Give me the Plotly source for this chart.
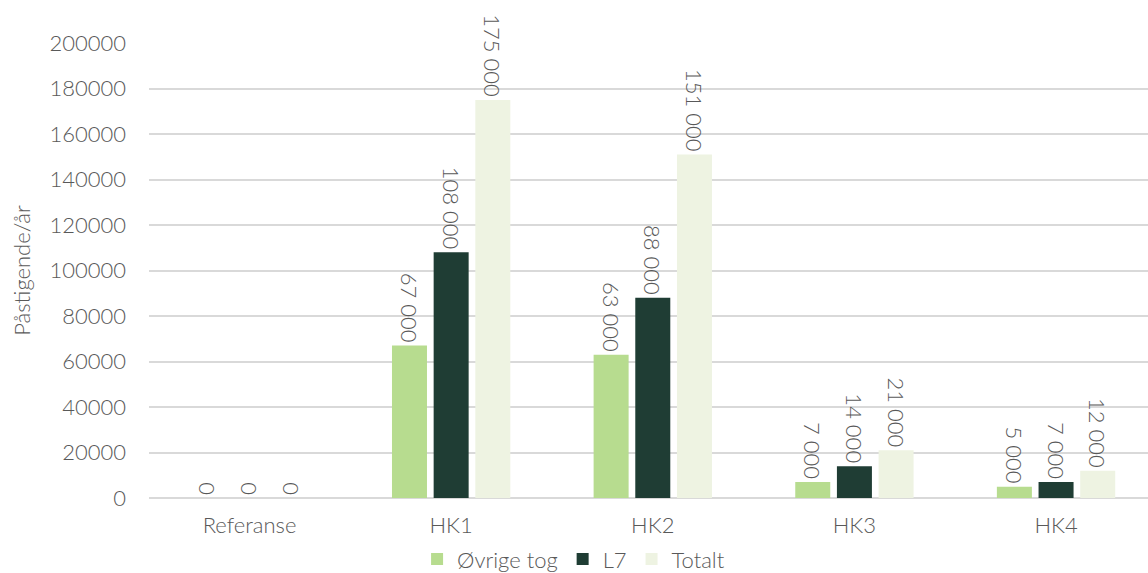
import plotly.graph_objects as go

# Boardings per year by alternative
categories = ["Referanse", "HK1", "HK2", "HK3", "HK4"]
ovrige_tog = [0, 67000, 63000, 7000, 5000]
l7 = [0, 108000, 88000, 14000, 7000]
totalt = [0, 175000, 151000, 21000, 12000]

series = [
    ("Øvrige tog", ovrige_tog, "#B7DC8F"),
    ("L7", l7, "#1F3D34"),
    ("Totalt", totalt, "#EEF3E2"),
]

FONT = "Lato, 'Open Sans', sans-serif"
GREY = "#595959"
SIZE = 22
WEIGHT = 300


def fmt(v):
    return f"{v:,}".replace(",", " ")


def font():
    return dict(family=FONT, size=SIZE, color=GREY, weight=WEIGHT)


fig = go.Figure()
for name, vals, color in series:
    fig.add_trace(go.Bar(
        name=name,
        x=categories,
        y=vals,
        marker=dict(color=color, line=dict(width=0)),
        text=[fmt(v) for v in vals],
        textposition="outside",
        textangle=90,
        constraintext="none",
        cliponaxis=False,
        textfont=font(),
    ))

fig.update_layout(
    width=1148,
    height=573,
    margin=dict(l=149, r=0, t=43, b=75),
    paper_bgcolor="white",
    plot_bgcolor="white",
    barmode="group",
    bargap=0.38,
    bargroupgap=0.16,
    font=font(),
    showlegend=True,
    legend=dict(
        orientation="h",
        x=0.425,
        xanchor="center",
        yref="container",
        y=0.024,
        yanchor="middle",
        font=font(),
        itemwidth=30,
        traceorder="normal",
    ),
    xaxis=dict(
        type="category",
        range=[-0.4985, 4.456],
        showgrid=False,
        showline=False,
        ticks="",
        ticklabelstandoff=12,
        tickfont=font(),
    ),
    yaxis=dict(
        range=[0, 200000],
        tickvals=[0, 20000, 40000, 60000, 80000, 100000, 120000, 140000, 160000, 180000, 200000],
        tickformat="d",
        showgrid=True,
        gridcolor="#D9D9D9",
        gridwidth=1.5,
        zeroline=True,
        zerolinecolor="#D9D9D9",
        zerolinewidth=1.5,
        showline=False,
        ticks="",
        ticklabelstandoff=22,
        tickfont=font(),
        title=dict(text="Påstigende/år", font=font(), standoff=12),
    ),
)

fig.write_html("out.html")
